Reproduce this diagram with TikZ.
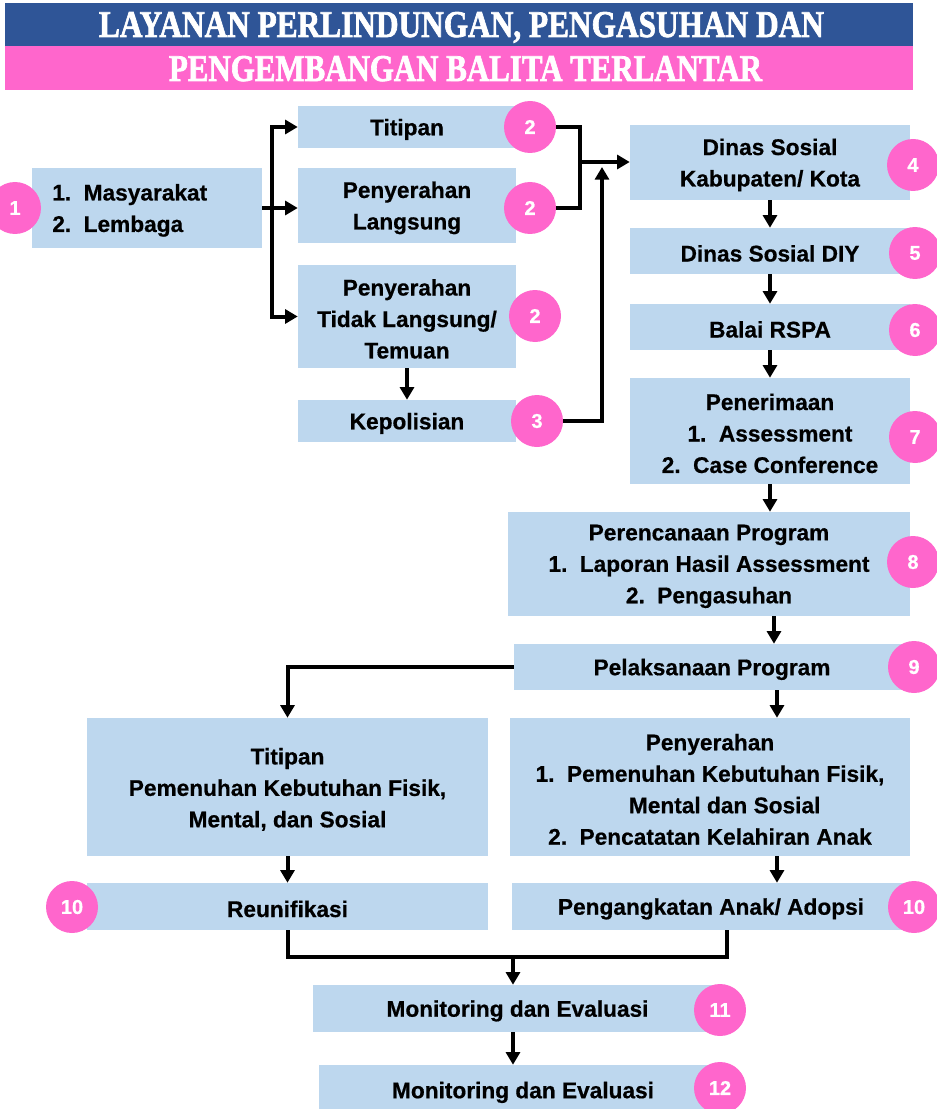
\documentclass[tikz,border=0pt]{standalone}
\usepackage{fontspec}
\setmainfont{Liberation Sans}[BoldFeatures={FakeBold=0.6}]
\newfontfamily\titlefont[BoldFeatures={FakeBold=2}]{Liberation Serif}
\usetikzlibrary{arrows.meta,calc}
\definecolor{boxblue}{HTML}{BDD7EE}
\definecolor{pinkc}{HTML}{FF66CC}
\definecolor{titleblue}{HTML}{2F5597}
\tikzset{
  fbox/.style={fill=boxblue, inner sep=0pt},
  ftext/.style={inner sep=0pt, align=center, yshift=-1.8pt, font=\bfseries\fontsize{17}{23.6}\selectfont},
  numc/.style={circle, fill=pinkc, text=white, inner sep=0pt, minimum size=39pt, font=\bfseries\fontsize{15}{15}\selectfont},
  conn/.style={line width=3pt, line join=miter},
  arr/.style={conn, -{Triangle[length=9.5pt,width=10.5pt]}},
  ttl/.style={anchor=base, inner sep=0pt, text=white, font=\titlefont\bfseries}
}
\newcommand\mkbox[6]{\node[fbox, minimum width={(#4-#2)*0.75pt}, minimum height={(#5-#3)*0.75pt}] (#1) at ({(#2+#4)/2},{(#3+#5)/2}) {};
  \node[ftext] (#1-t) at (#1.center) {#6};}
\newcommand\mknum[4]{\node[numc] (#1) at (#2,#3) {#4};}
\begin{document}
\begin{tikzpicture}[x=0.75pt,y=-0.75pt]
\useasboundingbox (0,0) rectangle (937,1109);
\clip (0,0) rectangle (937,1109);
% title
\fill[titleblue] (5,3) rectangle (913,46);
\fill[pinkc] (5,46) rectangle (913,90);
\node[ttl] (t1) at (461.5,37) {\resizebox{543.75pt}{18.75pt}{LAYANAN PERLINDUNGAN, PENGASUHAN DAN}};
\node[ttl] (t2) at (465.5,81) {\resizebox{444.75pt}{18.75pt}{PENGEMBANGAN BALITA TERLANTAR}};
% boxes
\node[fbox, minimum width=172.5pt, minimum height=60pt] (B1) at (147,208) {};
\node[ftext, align=left, text width=142pt] (B1-t) at (B1.center) {1.\hspace{0.55em}Masyarakat\\2.\hspace{0.55em}Lembaga};
\mkbox{T}{298}{106}{516}{148}{Titipan}
\mkbox{PL}{298}{168}{516}{243}{Penyerahan\\Langsung}
\mkbox{PTL}{298}{265}{516}{368}{Penyerahan\\Tidak Langsung/\\Temuan}
\mkbox{Kep}{298}{400}{516}{442}{Kepolisian}
\mkbox{DSK}{630}{125}{910}{200}{Dinas Sosial\\Kabupaten/ Kota}
\mkbox{DSD}{630}{228}{910}{274}{Dinas Sosial DIY}
\mkbox{BR}{630}{304}{910}{350}{Balai RSPA}
\mkbox{Pen}{630}{378}{910}{484}{Penerimaan\\1.\hspace{0.55em}Assessment\\2.\hspace{0.55em}Case Conference}
\mkbox{Per}{508}{512}{910}{616}{Perencanaan Program\\1.\hspace{0.55em}Laporan Hasil Assessment\\2.\hspace{0.55em}Pengasuhan}
\mkbox{Pel}{514}{644}{910}{690}{Pelaksanaan Program}
\mkbox{TB}{87}{718}{488}{856}{Titipan\\Pemenuhan Kebutuhan Fisik,\\Mental, dan Sosial}
\mkbox{PB}{510}{718}{910}{856}{Penyerahan\\1.\hspace{0.55em}Pemenuhan Kebutuhan Fisik,\\\hspace*{22pt}Mental dan Sosial\\2.\hspace{0.55em}Pencatatan Kelahiran Anak}
\mkbox{R}{87}{883}{488}{930}{Reunifikasi}
\mkbox{Peng}{512}{883}{910}{930}{Pengangkatan Anak/ Adopsi}
\mkbox{M11}{313}{985}{722}{1032}{Monitoring dan Evaluasi}
\mkbox{M12}{319}{1065}{727}{1115}{Monitoring dan Evaluasi}
% number circles
\mknum{c1}{15}{208}{1}
\mknum{c2a}{530}{127}{2}
\mknum{c2b}{530}{208}{2}
\mknum{c2c}{535}{316}{2}
\mknum{c3}{537}{421}{3}
\mknum{c4}{913}{165}{4}
\mknum{c5}{915}{253}{5}
\mknum{c6}{915}{330}{6}
\mknum{c7}{915}{437}{7}
\mknum{c8}{913}{562}{8}
\mknum{c9}{914}{667}{9}
\mknum{c10a}{72}{907}{10}
\mknum{c10b}{914}{907}{10}
\mknum{c11}{720}{1010}{11}
\mknum{c12}{720}{1088}{12}
% connectors
\coordinate (fk) at (272,208);
\draw[arr] (B1.east) -- (B1.east -| PL.west);
\draw[arr] (fk) |- (T.west);
\draw[arr] (fk) |- (PTL.west);
\draw[arr] (PTL.south) -- (Kep.north);
\coordinate (j1) at (580,162);
\draw[conn] (c2a.east) -| (j1) -- (j1 |- c2b.east) -- (c2b.east);
\draw[arr] (j1) -- (j1 -| DSK.west);
\coordinate (j2) at (602,167);
\draw[arr] (c3.east) -| (j2);
\draw[arr] (DSK.south) -- (DSD.north);
\draw[arr] (DSD.south) -- (BR.north);
\draw[arr] (BR.south) -- (Pen.north);
\draw[arr] (Pen.south) -- (Pen.south |- Per.north);
\coordinate (a8) at ([xshift=48.75pt]Per.south);
\draw[arr] (a8) -- (a8 |- Pel.north);
\draw[arr] (Pel.west) -| (TB.north);
\coordinate (a9) at ([xshift=48.75pt]Pel.south);
\draw[arr] (a9) -- (a9 |- PB.north);
\draw[arr] (TB.south) -- (R.north);
\coordinate (a10) at (a9 |- PB.south);
\draw[arr] (a10) -- (a10 |- Peng.north);
\coordinate (pe) at ([xshift=12pt]Peng.south);
\coordinate (jb) at (513,957);
\draw[conn] (R.south) |- (jb) -| (pe);
\draw[arr] (jb) -- (jb |- M11.north);
\draw[arr] (jb |- M11.south) -- (jb |- M12.north);
\end{tikzpicture}
\end{document}
